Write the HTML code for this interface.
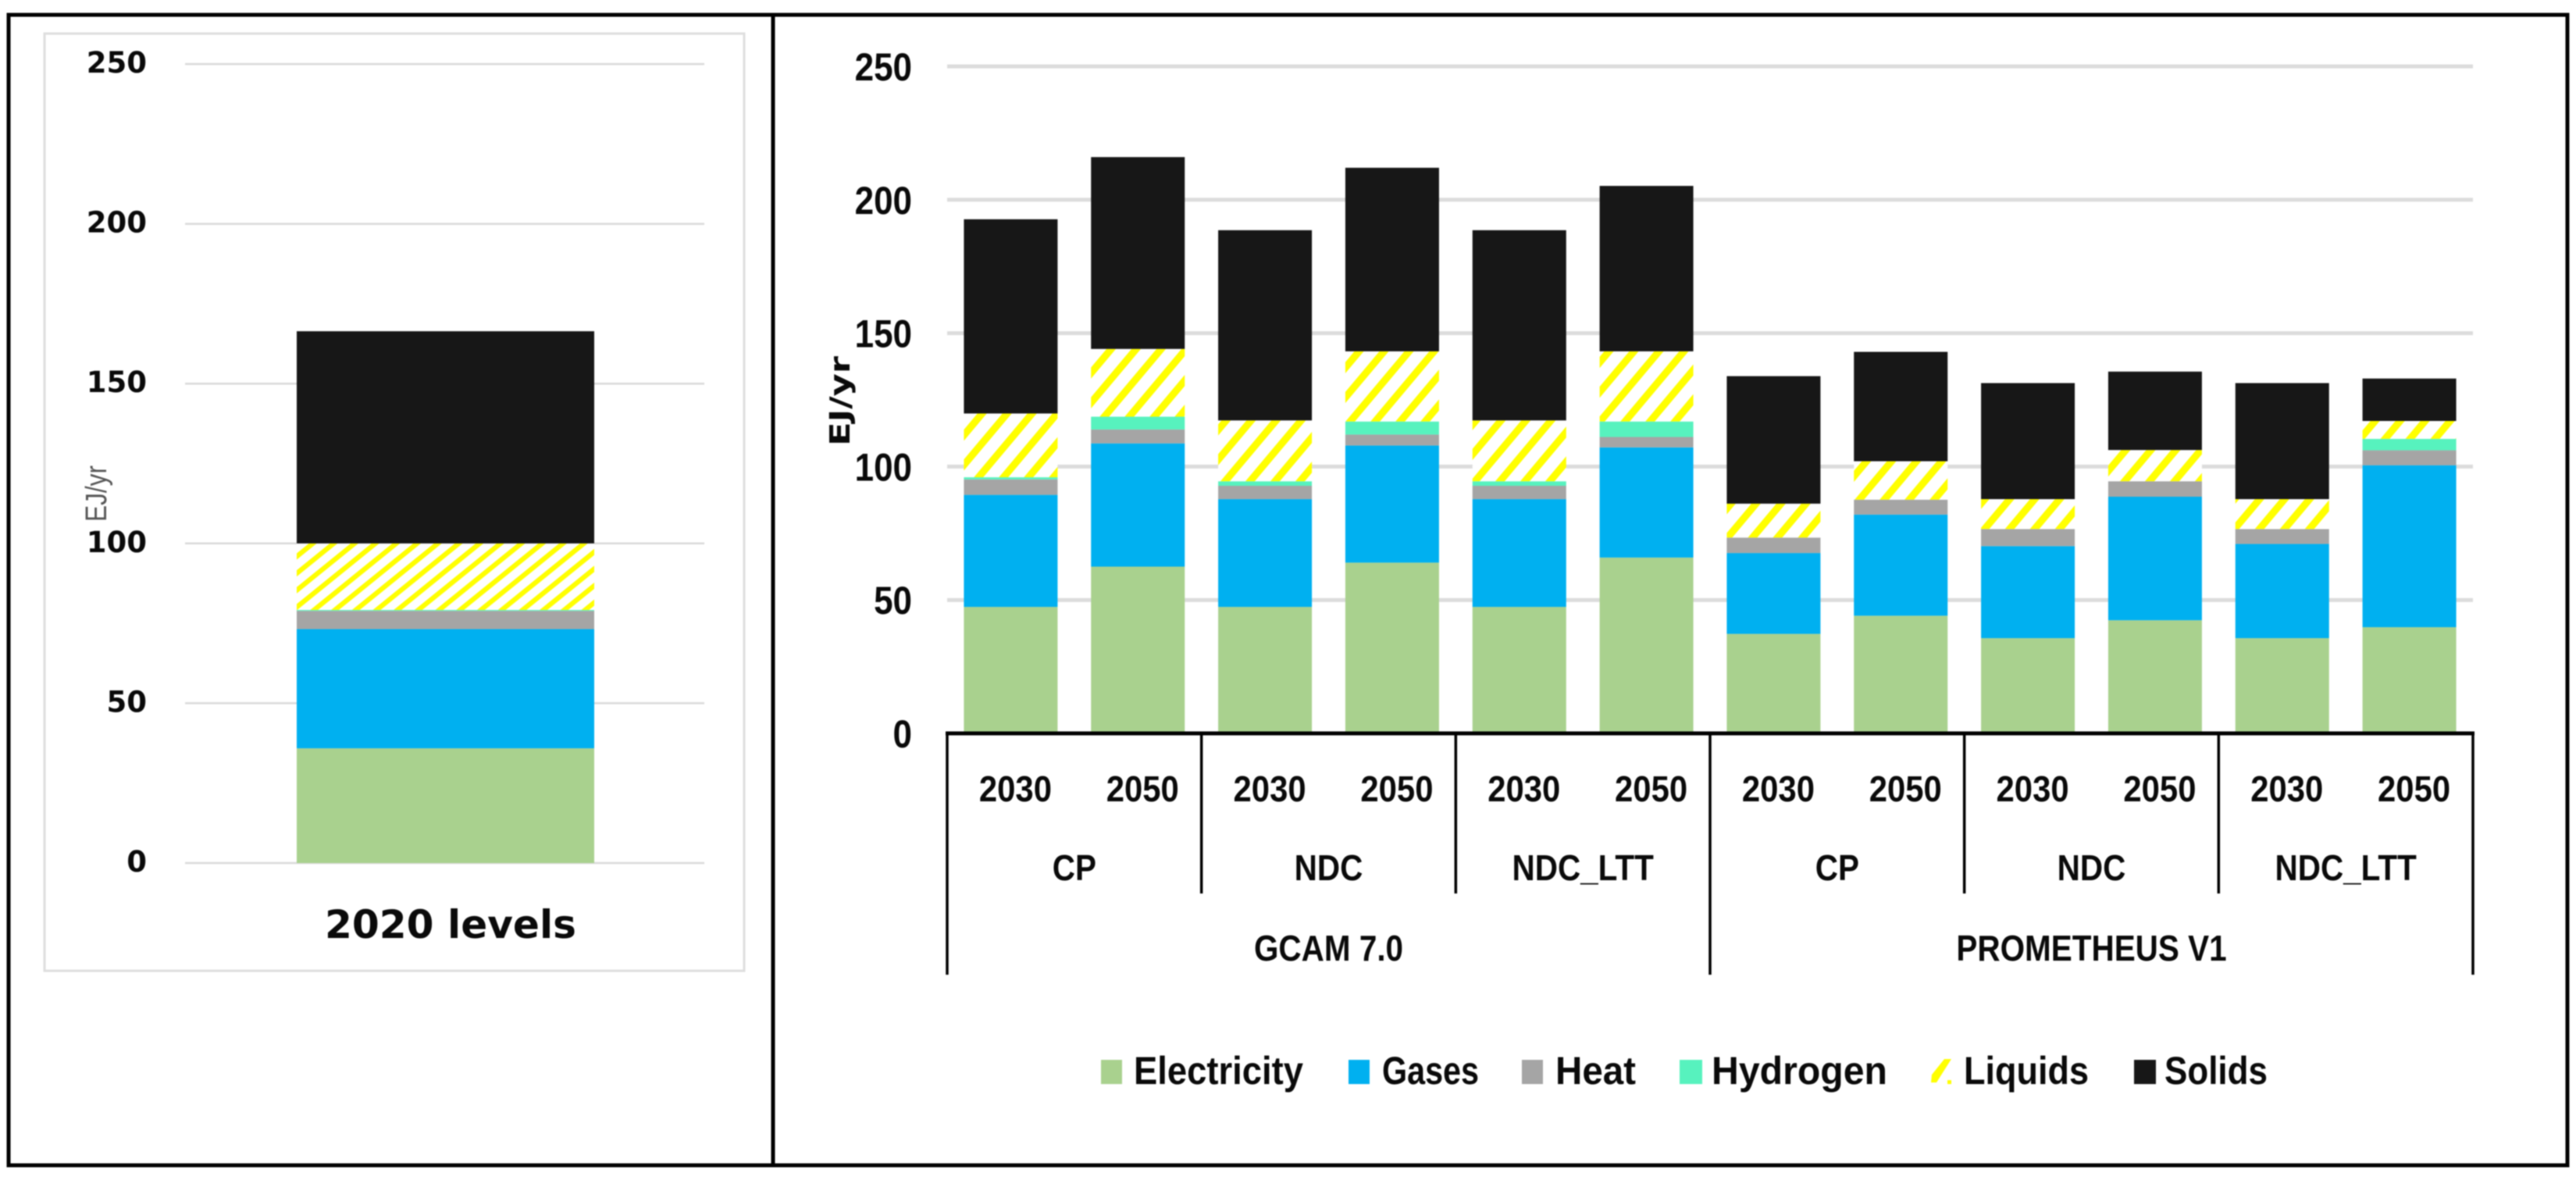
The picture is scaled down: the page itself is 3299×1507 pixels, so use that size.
<!DOCTYPE html>
<html lang="en">
<head>
<meta charset="utf-8">
<title>Final energy by carrier</title>
<style>
  html,body{margin:0;padding:0;background:#fff;width:3299px;height:1507px;overflow:hidden}
  svg{display:block;filter:blur(0.7px)}
  .lbl{font-family:"Liberation Sans",sans-serif;font-weight:700;fill:#0a0a0a}
  .wide{font-family:"DejaVu Sans",sans-serif;font-weight:700;fill:#0a0a0a}
</style>
</head>
<body>
<svg id="figure" xmlns="http://www.w3.org/2000/svg" width="3299" height="1507" viewBox="0 0 3299 1507">
  <defs>
    <pattern id="hatchR" patternUnits="userSpaceOnUse" width="32" height="20" patternTransform="skewX(-40)">
      <rect width="32" height="20" fill="#fff"/>
      <rect width="12" height="20" fill="#ffff00"/>
    </pattern>
    <pattern id="hatchL" patternUnits="userSpaceOnUse" width="26.7" height="20" patternTransform="skewX(-51)">
      <rect width="26.7" height="20" fill="#fff"/>
      <rect width="10" height="20" fill="#ffff00"/>
    </pattern>
  </defs>

  <rect x="0" y="0" width="3299" height="1507" fill="#fff"/>
  <rect x="57" y="43" width="896" height="1200" fill="#fff" stroke="#dedede" stroke-width="3"/>

  <g id="leftGrid"></g>
  <g id="leftBars"></g>
  <g id="leftTicks"></g>
  <text transform="translate(136,668) rotate(-90)" font-family="'Liberation Sans',sans-serif" font-size="38" fill="#555" textLength="72" lengthAdjust="spacingAndGlyphs">EJ/yr</text>
  <text class="wide" x="416" y="1201" font-size="50" textLength="322" lengthAdjust="spacingAndGlyphs">2020 levels</text>

  <g id="rightGrid"></g>
  <g id="rightBars"></g>
  <g id="rightTicks"></g>
  <g id="rightAxis"></g>
  <text class="wide" transform="translate(1088,571) rotate(-90)" font-size="36" textLength="115" lengthAdjust="spacingAndGlyphs">EJ/yr</text>

  <g>
    <g>
      <rect x="1410" y="1357" width="27" height="31" fill="#a9d18e"/>
      <text class="lbl" x="1452" y="1388" font-size="50" textLength="217" lengthAdjust="spacingAndGlyphs">Electricity</text>
    </g>
    <g>
      <rect x="1727" y="1357" width="27" height="31" fill="#00b0f0"/>
      <text class="lbl" x="1770" y="1388" font-size="50" textLength="124" lengthAdjust="spacingAndGlyphs">Gases</text>
    </g>
    <g>
      <rect x="1949" y="1357" width="27" height="31" fill="#a5a5a5"/>
      <text class="lbl" x="1992" y="1388" font-size="50" textLength="103" lengthAdjust="spacingAndGlyphs">Heat</text>
    </g>
    <g>
      <rect x="2151" y="1357" width="29" height="31" fill="#57f2be"/>
      <text class="lbl" x="2192" y="1388" font-size="50" textLength="225" lengthAdjust="spacingAndGlyphs">Hydrogen</text>
    </g>
    <g>
      <polygon points="2473,1386 2474,1376 2490,1356 2499,1356 2480,1386" fill="#ffff00"/>
      <rect x="2494" y="1383" width="5" height="5" fill="#ffff00"/>
      <text class="lbl" x="2515" y="1388" font-size="50" textLength="160" lengthAdjust="spacingAndGlyphs">Liquids</text>
    </g>
    <g>
      <rect x="2733" y="1357" width="28" height="31" fill="#171717"/>
      <text class="lbl" x="2772" y="1388" font-size="50" textLength="132" lengthAdjust="spacingAndGlyphs">Solids</text>
    </g>
  </g>

  <g fill="none" stroke="#000" stroke-width="5">
    <rect x="11" y="19" width="3277" height="1473"/>
    <line x1="990" y1="19" x2="990" y2="1492"/>
  </g>
</svg>

<script>
// ---- data ----
const yTickValues = [0, 50, 100, 150, 200, 250];
const years = ["2030","2050","2030","2050","2030","2050","2030","2050","2030","2050","2030","2050"];
const scenarios = ["CP","NDC","NDC_LTT","CP","NDC","NDC_LTT"];
const models = ["GCAM 7.0","PROMETHEUS V1"];
const seriesNames = ["Electricity","Gases","Heat","Hydrogen","Liquids","Solids"];

const electricity = [47.4, 62.5, 47.4, 64.0, 47.4, 65.9, 37.3, 44.1, 35.7, 42.4, 35.7, 39.8];
const gases       = [42.0, 46.2, 40.4, 43.9, 40.4, 41.3, 30.3, 37.9, 34.5, 46.3, 35.3, 60.7];
const heat        = [ 5.8,  5.2,  5.0,  4.1,  5.0,  3.9,  5.8,  5.6,  6.4,  5.8,  5.6,  5.6];
const hydrogen    = [ 0.8,  4.8,  1.7,  4.9,  1.7,  5.8,  0.0,  0.0,  0.0,  0.0,  0.0,  4.3];
const liquids     = [23.9, 25.4, 22.8, 26.3, 22.8, 26.3, 12.7, 14.4, 11.2, 11.7, 11.2,  6.7];
const solids      = [72.8, 71.9, 71.3, 68.8, 71.3, 62.0, 47.8, 41.0, 43.5, 29.4, 43.5, 15.9];

const levels2020Electricity = 35.9;
const levels2020Gases = 37.3;
const levels2020Heat = 5.7;
const levels2020Hydrogen = 0.3;
const levels2020Liquids = 20.8;
const levels2020Solids = 66.4;

// ---- helpers ----
const NS = "http://www.w3.org/2000/svg";
function mk(tag, parent, attrs) {
  const el = document.createElementNS(NS, tag);
  for (const k in attrs) el.setAttribute(k, attrs[k]);
  parent.appendChild(el);
  return el;
}
const seriesData = [electricity, gases, heat, hydrogen, liquids, solids];

// ---- right chart axes ----
const R = {x0: 1213, x1: 3167, y0: 939, y250: 85, barW: 120};
const catCount = years.length;
const catStep = (R.x1 - R.x0) / catCount;
function xRight(i) { return R.x0 + (i + 0.5) * catStep; }
function yRight(v) { return R.y0 - v * (R.y0 - R.y250) / 250; }

// ---- left chart axes ----
const L = {y0: 1105, y250: 82, gridX0: 237, gridX1: 902, barX0: 380, barX1: 761};
function yLeft(v) { return L.y0 - v * (L.y0 - L.y250) / 250; }

function fillRight(name) {
  if (name === "Electricity") return "#a9d18e";
  if (name === "Gases") return "#00b0f0";
  if (name === "Heat") return "#a5a5a5";
  if (name === "Hydrogen") return "#57f2be";
  if (name === "Liquids") return "url(#hatchR)";
  return "#171717";
}
function fillLeft(name) {
  return name === "Liquids" ? "url(#hatchL)" : fillRight(name);
}

// ---- right gridlines and ticks ----
const rGrid = document.getElementById("rightGrid");
const rTicks = document.getElementById("rightTicks");
yTickValues.forEach(function (v) {
  if (v !== 0) {
    const line = mk("line", rGrid, {x1: R.x0, x2: R.x1, y1: yRight(v), y2: yRight(v), stroke: "#dcdcdc", "stroke-width": 5});
    
    
  }
  const t = mk("text", rTicks, {class: "lbl", "font-size": 50, "text-anchor": "end",
    transform: "translate(1168," + (yRight(v) + 18) + ") scale(0.88,1)"});
  t.textContent = v;
  
  
});

// ---- right bars ----
const rBars = document.getElementById("rightBars");
years.forEach(function (yr, i) {
  let cum = 0;
  seriesNames.forEach(function (name, s) {
    const val = seriesData[s][i];
    if (val > 0) {
      const top = yRight(cum + val);
      const rect = mk("rect", rBars, {x: xRight(i) - R.barW / 2, y: top, width: R.barW,
        height: yRight(cum) - top, fill: fillRight(name)});
      
      
    }
    cum += val;
  });
});

// ---- right x axis ----
const rAxis = document.getElementById("rightAxis");
const axisLine = mk("line", rAxis, {x1: R.x0 - 2, x2: R.x1 + 2, y1: R.y0, y2: R.y0, stroke: "#000", "stroke-width": 5});



function sep(x, yEnd) {
  const l = mk("line", rAxis, {x1: x, x2: x, y1: R.y0, y2: yEnd, stroke: "#000", "stroke-width": 3.5});
  
  
}
function catLabel(txt, cx, base, size, sx) {
  const t = mk("text", rAxis, {class: "lbl", "font-size": size, "text-anchor": "middle",
    transform: "translate(" + cx + "," + base + ") scale(" + sx + ",1)"});
  t.textContent = txt;
  
  
}
years.forEach(function (yr, i) {
  catLabel(yr, xRight(i) + 6, 1026, 46, 0.91);
});
const perScenario = catCount / scenarios.length;
scenarios.forEach(function (sc, i) {
  const a = R.x0 + i * perScenario * catStep;
  const b = R.x0 + (i + 1) * perScenario * catStep;
  catLabel(sc, (a + b) / 2, 1127, 46, 0.88);
  sep(a, i % (scenarios.length / models.length) === 0 ? 1248 : 1144);
});
const perModel = catCount / models.length;
models.forEach(function (m, i) {
  const a = R.x0 + i * perModel * catStep;
  const b = R.x0 + (i + 1) * perModel * catStep;
  catLabel(m, (a + b) / 2, 1230, 46, 0.88);
});
sep(R.x1, 1248);

// ---- left chart ----
const lGrid = document.getElementById("leftGrid");
const lTicks = document.getElementById("leftTicks");
yTickValues.forEach(function (v) {
  const line = mk("line", lGrid, {x1: L.gridX0, x2: L.gridX1, y1: yLeft(v), y2: yLeft(v), stroke: "#d9d9d9", "stroke-width": 2.5});
  
  
  const t = mk("text", lTicks, {class: "wide", "font-size": 37, "text-anchor": "end",
    x: 188, y: yLeft(v) + 11});
  t.textContent = v;
  
  
});
const lBars = document.getElementById("leftBars");
const levels2020 = [levels2020Electricity, levels2020Gases, levels2020Heat, levels2020Hydrogen, levels2020Liquids, levels2020Solids];
let lCum = 0;
seriesNames.forEach(function (name, s) {
  const val = levels2020[s];
  const top = yLeft(lCum + val);
  const rect = mk("rect", lBars, {x: L.barX0, y: top, width: L.barX1 - L.barX0,
    height: yLeft(lCum) - top, fill: fillLeft(name)});
  
  
  lCum += val;
});
</script>
</body>
</html>
